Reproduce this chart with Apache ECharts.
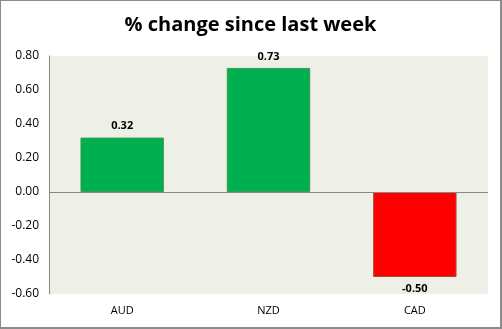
<!DOCTYPE html>
<html><head><meta charset="utf-8">
<script src="https://cdn.jsdelivr.net/npm/echarts@6/dist/echarts.min.js"></script>
<style>html,body{margin:0;padding:0;background:#fff}#c{width:502px;height:329px;box-sizing:border-box;border:2px solid #8c8c8c;border-top-width:1px;border-left-width:1px}</style>
</head><body><div id="c"></div>
<script>
const categories = ['AUD', 'NZD', 'CAD'];
const values = [0.32, 0.73, -0.50];
const yTicks = {min: -0.6, max: 0.8, interval: 0.2};
const chart = echarts.init(document.getElementById('c'));
chart.setOption({
  animation: false,
  title: {text: '% change since last week', left: 'center', top: 9,
    textStyle: {fontFamily: 'Open Sans', fontWeight: 'bold', fontSize: 20, color: '#000'}},
  grid: {left: 48, right: 12, top: 55, bottom: 33, show: true, backgroundColor: '#eef0e8', borderWidth: 0},
  xAxis: {type: 'category', data: categories, position: 'bottom',
    axisLine: {show: false}, axisTick: {show: false},
    axisLabel: {fontFamily: 'Open Sans', fontSize: 11, color: '#000', margin: 11}},
  yAxis: {type: 'value', min: yTicks.min, max: yTicks.max, interval: yTicks.interval,
    splitLine: {show: false}, axisLine: {show: true, lineStyle: {color: '#888'}}, axisTick: {show: false},
    axisLabel: {fontFamily: 'Open Sans', fontSize: 12, color: '#000', margin: 10, formatter: v => v.toFixed(2)}},
  series: [{type: 'bar', barWidth: '57%',
    data: values.map(v => ({value: v, itemStyle: v >= 0 ? {color: '#00b050', borderColor: '#3c9a4a', borderWidth: 1} : {color: '#ff0000', borderColor: '#a0522d', borderWidth: 1}})),
    label: {show: true, position: 'outside', fontFamily: 'Open Sans', fontWeight: 'bold', fontSize: 11, color: '#000',
      formatter: p => p.value.toFixed(2), distance: 6},
    markLine: {silent: true, symbol: 'none', label: {show: false}, lineStyle: {color: '#888', type: 'solid', width: 1}, data: [{yAxis: 0}]}
  }]
});
</script></body></html>
